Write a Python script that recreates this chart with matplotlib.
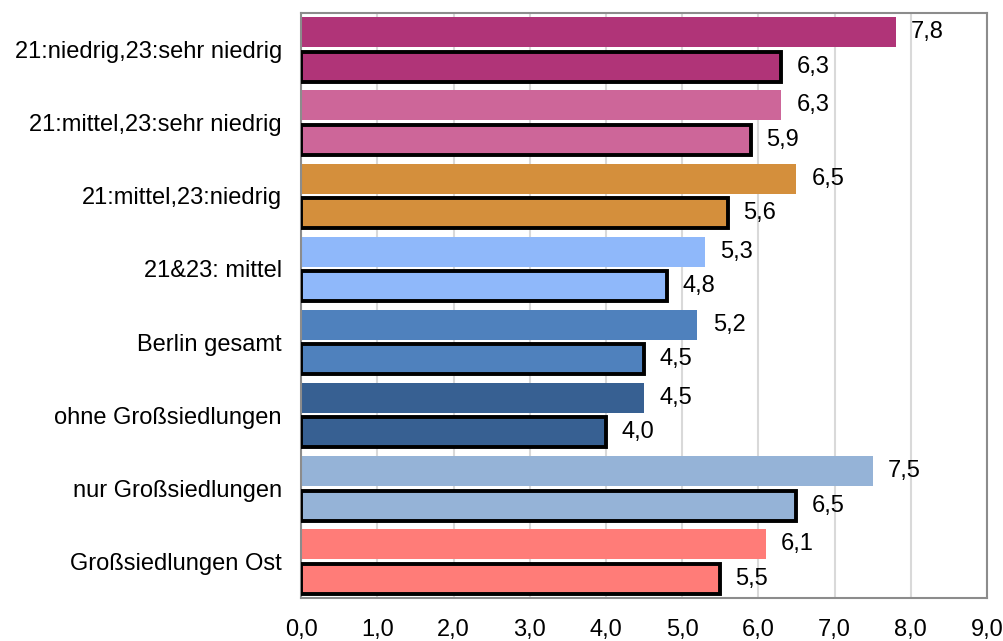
import numpy as np
import matplotlib as mpl
mpl.use('Agg')
from matplotlib import pyplot as plt

plt.rcParams['font.family'] = ['Liberation Sans', 'DejaVu Sans']

categories = [
    '21:niedrig,23:sehr niedrig',
    '21:mittel,23:sehr niedrig',
    '21:mittel,23:niedrig',
    '21&23: mittel',
    'Berlin gesamt',
    'ohne Großsiedlungen',
    'nur Großsiedlungen',
    'Großsiedlungen Ost',
]
values_upper = [7.8, 6.3, 6.5, 5.3, 5.2, 4.5, 7.5, 6.1]
values_lower = [6.3, 5.9, 5.6, 4.8, 4.5, 4.0, 6.5, 5.5]
colors = ['#B03478', '#CD6699', '#D48F3C', '#8FB8FA',
          '#4F81BD', '#376092', '#95B3D7', '#FF7C78']

fig = plt.figure(figsize=(10.04, 6.41), dpi=100)
ax = fig.add_axes([0.30, 0.067, 0.683, 0.913])

y = np.arange(len(categories))
bar_h = 0.41
offset = 0.235
fs = 17

# upper bar of each pair without outline, lower bar with a black frame
ax.barh(y - offset, values_upper, height=bar_h, color=colors, zorder=2)
ax.barh(y + offset, values_lower, height=bar_h, color=colors,
        edgecolor='black', linewidth=2.8, zorder=3)

for yi, v in zip(y, values_upper):
    ax.text(v + 0.2, yi - offset, f'{v:.1f}'.replace('.', ','),
            va='center', ha='left', fontsize=fs)
for yi, v in zip(y, values_lower):
    ax.text(v + 0.2, yi + offset, f'{v:.1f}'.replace('.', ','),
            va='center', ha='left', fontsize=fs)

ax.set_xlim(0, 9)
ax.set_ylim(len(categories) - 0.5, -0.5)
ticks = np.arange(0, 9.5, 1.0)
ax.set_xticks(ticks)
ax.set_xticklabels([f'{t:.1f}'.replace('.', ',') for t in ticks], fontsize=fs)
ax.set_yticks(y)
ax.set_yticklabels(categories, fontsize=fs)
ax.tick_params(axis='both', length=0)
ax.tick_params(axis='x', pad=15)
ax.tick_params(axis='y', pad=14)

ax.grid(axis='x', color='#D9D9D9', linewidth=1.5, zorder=0)
ax.set_axisbelow(True)
for spine in ax.spines.values():
    spine.set_color('#8C8C8C')
    spine.set_linewidth(1.5)

fig.savefig('out.png', dpi=100)
